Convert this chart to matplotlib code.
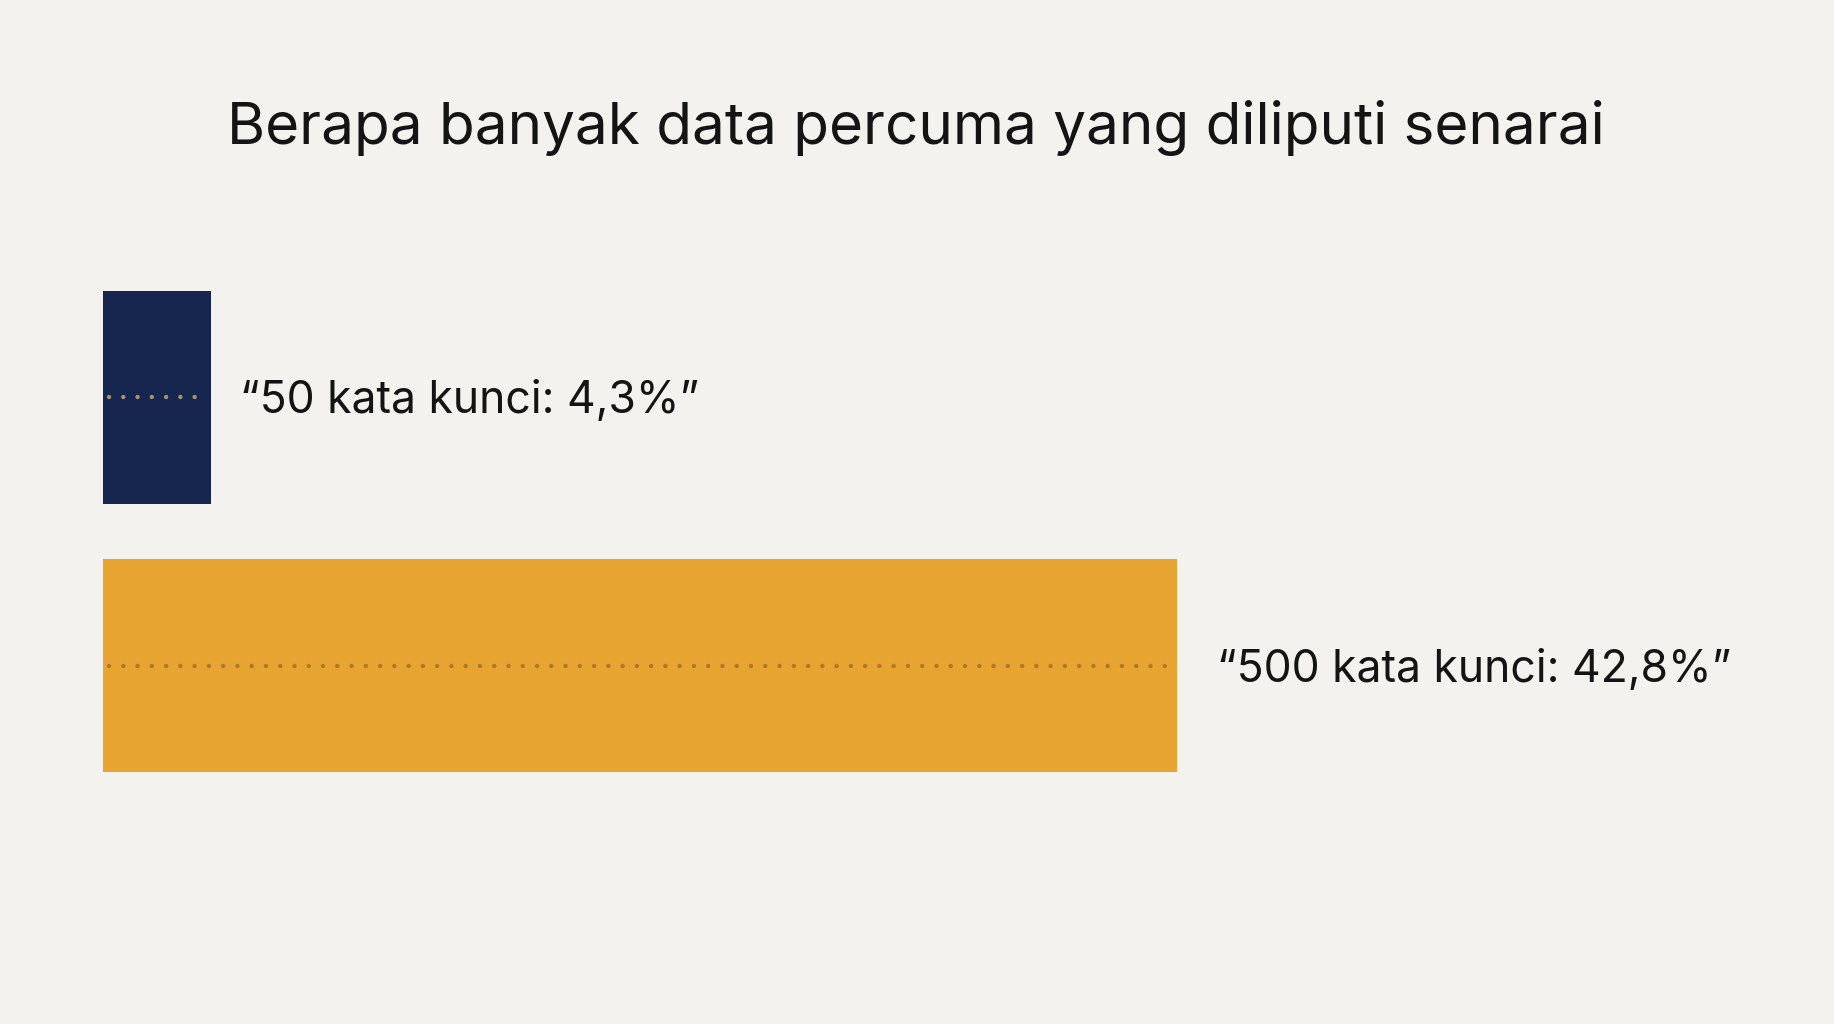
import matplotlib.pyplot as plt

# data
categories = ["50 kata kunci", "500 kata kunci"]
values = [4.3, 42.8]
bar_colors = ["#17264f", "#e8a430"]
dot_colors = ["#a89070", "#a87a2a"]
label_offsets = [21, 29]  # points, gap between bar end and label
title = "Berapa banyak data percuma yang diliputi senarai"

bg = "#f3f2ee"
plt.rcParams['font.family'] = ['Inter', 'DejaVu Sans']

fig = plt.figure(figsize=(18.34, 10.24), dpi=100, facecolor=bg)
ax = fig.add_axes([0.0561, 0.2461, 0.5855, 0.4697])
ax.set_facecolor(bg)

ypos = list(range(len(categories)))
bar_h = 0.793
ax.barh(ypos, values, height=bar_h, color=bar_colors, edgecolor='none')

# dotted centre lines
for y, v, dc in zip(ypos, values, dot_colors):
    ax.plot([0.25, v - 0.1], [y, y], color=dc, lw=3.2,
            ls=(0, (0.01, 3.2)), dash_capstyle='round')

# labels
for y, v, cat, off in zip(ypos, values, categories, label_offsets):
    txt = "\u201c" + cat + ": " + f"{v:.1f}".replace('.', ',') + "%\u201d"
    ax.annotate(txt, xy=(v, y), xytext=(off, -11.5), textcoords='offset points',
                ha='left', va='baseline', fontsize=32, color='#141414',
                annotation_clip=False)

ax.set_xlim(0, max(values))
ax.set_ylim(len(categories) - 1 + bar_h / 2, -bar_h / 2)
ax.axis('off')

fig.text(0.4995, 0.8594, title, ha='center', va='baseline',
         fontsize=42, color='#141414')

fig.savefig('out.png', dpi=100, facecolor=bg)
